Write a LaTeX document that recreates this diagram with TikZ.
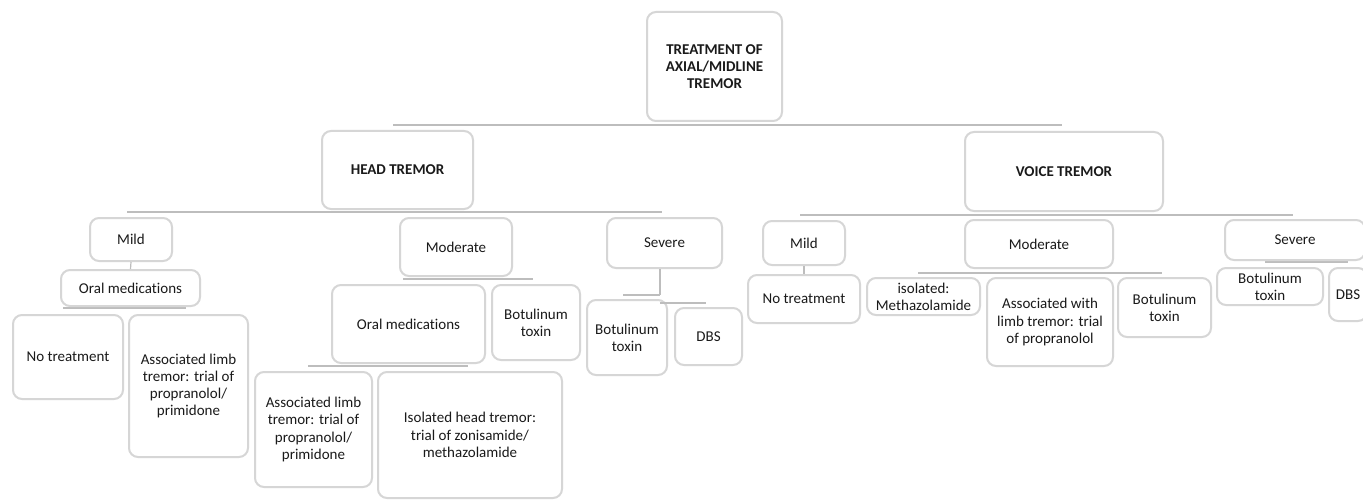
\documentclass[tikz,border=0pt]{standalone}
\usepackage{fontspec}
\setmainfont[Ligatures=NoCommon]{Carlito}
\definecolor{boxline}{HTML}{D6D6D6}
\definecolor{connline}{HTML}{BDBDBD}
\definecolor{txt}{HTML}{1A1A1A}
\tikzset{
  box/.style={draw=boxline, line width=2pt, rounded corners=9pt, fill=white,
    align=center, inner sep=0pt, text=txt, font=\fontsize{15}{17.3}\selectfont},
  conn/.style={draw=connline, line width=2.2pt},
}
\newcommand\bx[6]{\node[box, minimum width={#3-#2}, minimum height={#5-#4}] (#1) at ({(#2+#3)/2},{-(#4+#5)/2}) {#6};}
\begin{document}
\begin{tikzpicture}[x=1pt,y=1pt]
\path[use as bounding box, clip] (0,0) rectangle (1363,-500);
\fill[white] (0,0) rectangle (1363,-500);
% connector coordinates
\coordinate (l1a) at (393,-125); \coordinate (l1b) at (1062,-125);
\coordinate (l2a) at (127,-212); \coordinate (l2b) at (662,-212);
\coordinate (l3a) at (800,-215); \coordinate (l3b) at (1293,-215);
\coordinate (l4a) at (63,-308);  \coordinate (l4b) at (186,-308);
\coordinate (l5a) at (403,-279); \coordinate (l5b) at (533,-279);
\coordinate (l6a) at (308,-366); \coordinate (l6b) at (468,-366);
\coordinate (l7a) at (918,-273); \coordinate (l7b) at (1162,-273);
\coordinate (l8a) at (1265,-262); \coordinate (l8b) at (1348,-262);
\coordinate (s1) at (660,-295); \coordinate (s2) at (623,-295);
\coordinate (s3) at (660,-303); \coordinate (s4) at (706,-303);
\draw[conn] (l1a) -- (l1b);
\draw[conn] (l2a) -- (l2b);
\draw[conn] (l3a) -- (l3b);
\draw[conn] (l4a) -- (l4b);
\draw[conn] (l5a) -- (l5b);
\draw[conn] (l6a) -- (l6b);
\draw[conn] (l7a) -- (l7b);
\draw[conn] (l8a) -- (l8b);
% boxes
\bx{top}{647}{782}{12}{121}{\bfseries TREATMENT OF\\\bfseries AXIAL/MIDLINE\\\bfseries TREMOR}
\bx{head}{322}{473}{131}{209}{\bfseries HEAD TREMOR}
\bx{voice}{965}{1163}{132}{211}{\bfseries VOICE TREMOR}
\bx{hmild}{90}{172}{218}{261}{Mild}
\bx{horal}{61}{200}{270}{306}{Oral medications}
\bx{hnotr}{13}{123}{315}{399}{No treatment}
\bx{hassoc}{129}{248}{315}{457}{Associated limb\\tremor: trial of\\propranolol/\\primidone}
\bx{hmod}{400}{512}{218}{276}{Moderate}
\bx{hmoral}{332}{485}{285}{363}{Oral medications}
\bx{hmbot}{492}{580}{285}{360}{Botulinum\\toxin}
\bx{hmassoc}{255}{372}{372}{487}{Associated limb\\tremor: trial of\\propranolol/\\primidone}
\bx{hmiso}{378}{562}{372}{498}{Isolated head tremor:\\trial of zonisamide/\\methazolamide}
\bx{hsev}{607}{722}{218}{268}{Severe}
\bx{hsbot}{587}{667}{300}{375}{Botulinum\\toxin}
\bx{hsdbs}{675}{742}{308}{365}{DBS}
\bx{vmild}{763}{845}{221}{265}{Mild}
\bx{vnotr}{748}{860}{275}{323}{No treatment}
\bx{viso}{867}{980}{278}{315}{isolated:\\Methazolamide}
\bx{vmod}{965}{1113}{220}{268}{Moderate}
\bx{vassoc}{987}{1113}{278}{366}{Associated with\\limb tremor: trial\\of propranolol}
\bx{vmbot}{1118}{1211}{278}{337}{Botulinum\\toxin}
\bx{vsev}{1225}{1365}{220}{260}{Severe}
\bx{vsbot}{1217}{1323}{268}{305}{Botulinum\\toxin}
\bx{vsdbs}{1329}{1367}{268}{321}{DBS}
% small node-to-node ticks
\draw[conn, line width=1.2pt] (hmild.south) -- (horal.north);
\draw[conn, line width=1.2pt] (vmild.south) -- (vnotr.north);
\draw[conn] (hsev.south -| s1) -- (s1);
\draw[conn] (s2) -- (s1);
\draw[conn] (s3) -- (s4);
\end{tikzpicture}
\end{document}
